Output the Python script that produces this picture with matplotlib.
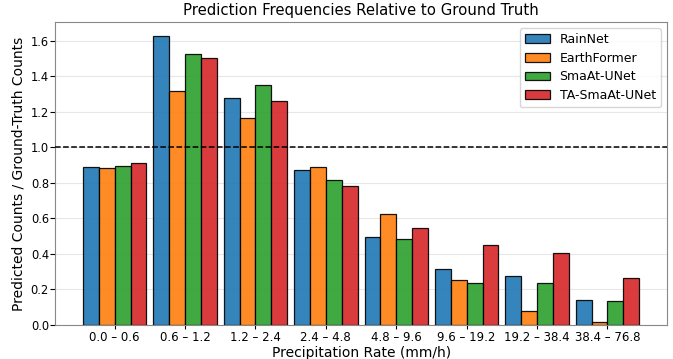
import numpy as np
import matplotlib.pyplot as plt

bins = ['0.0 – 0.6', '0.6 – 1.2', '1.2 – 2.4', '2.4 – 4.8',
        '4.8 – 9.6', '9.6 – 19.2', '19.2 – 38.4', '38.4 – 76.8']
models = ['RainNet', 'EarthFormer', 'SmaAt-UNet', 'TA-SmaAt-UNet']

rainnet = [0.886, 1.624, 1.277, 0.869, 0.493, 0.316, 0.273, 0.139]
earthformer = [0.882, 1.316, 1.165, 0.888, 0.624, 0.253, 0.080, 0.015]
smaat = [0.897, 1.522, 1.352, 0.818, 0.481, 0.234, 0.236, 0.133]
ta_smaat = [0.912, 1.500, 1.258, 0.779, 0.545, 0.451, 0.403, 0.262]

series = [rainnet, earthformer, smaat, ta_smaat]
colors = ['tab:blue', 'tab:orange', 'tab:green', 'tab:red']

x = np.arange(len(bins))
width = 0.225

fig, ax = plt.subplots(figsize=(6.73, 3.59), dpi=100)
for i, (vals, name, c) in enumerate(zip(series, models, colors)):
    ax.bar(x + (i - 1.5) * width, vals, width, label=name, color=c,
           edgecolor='black', linewidth=0.9, alpha=0.9, zorder=3)

ax.axhline(1.0, color='black', linestyle='--', linewidth=1.1, zorder=4)

ax.set_xticks(x)
ax.set_xticklabels(bins, fontsize=8.5)
ax.tick_params(axis='x', length=3, pad=1.5)
ax.tick_params(axis='y', labelsize=8.3, length=3.5, pad=1)
ax.set_xlabel('Precipitation Rate (mm/h)', fontsize=10, labelpad=1)
ax.set_ylabel('Predicted Counts / Ground-Truth Counts', fontsize=10, labelpad=3.5)
ax.set_title('Prediction Frequencies Relative to Ground Truth', fontsize=10.7, pad=5)
ax.grid(axis='y', alpha=0.3, zorder=0)
for s in ax.spines.values():
    s.set_color('#888888')
ax.legend(loc='upper right', fontsize=9, labelspacing=0.45)

fig.subplots_adjust(left=0.082, right=0.991, top=0.939, bottom=0.095)
fig.savefig('out.png', dpi=100)
